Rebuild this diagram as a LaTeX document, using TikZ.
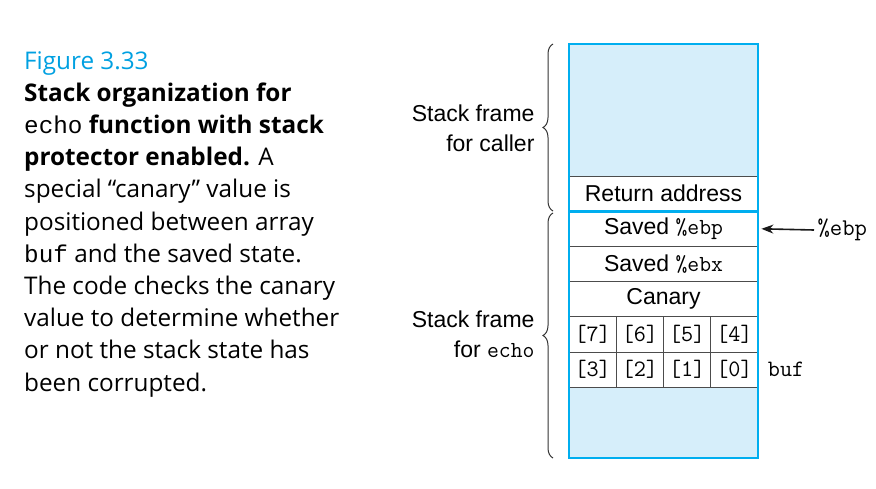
\documentclass[tikz,border=0pt]{standalone}
\usepackage{fontspec}
\setmainfont{Open Sans}
\setsansfont{Liberation Sans}
\newfontfamily\capmono{Liberation Mono}
\usetikzlibrary{arrows.meta,decorations.pathreplacing,positioning}
\definecolor{stackblue}{RGB}{0,174,239}
\definecolor{stackfill}{RGB}{214,238,250}
\definecolor{figcyan}{RGB}{0,160,225}

\begin{document}
\begin{tikzpicture}[x=1pt,y=-1pt,
  cell/.style={draw=black!70, line width=0.8pt, minimum width=189pt, minimum height=35.2pt,
    inner sep=0pt, font=\sffamily\fontsize{23}{27}\selectfont},
  bytecell/.style={cell, minimum width=47.25pt, font=\ttfamily\fontsize{23.5}{27}\selectfont},
  framebox/.style={draw=stackblue, line width=2.6pt},
  brc/.style={decorate, decoration={brace, amplitude=10pt}, draw=black!80, line width=1pt},
  lbl/.style={font=\sffamily\fontsize{23}{30}\selectfont, align=right, anchor=east}]
\useasboundingbox (0,0) rectangle (876,488);
% caption
\node[anchor=north west, inner sep=0pt, align=left, font=\fontsize{24.3}{32.2}\selectfont] (caption) at (24,51)
  {\textcolor{figcyan}{Figure 3.33}\\
   \textbf{Stack organization for}\\
   {\capmono echo} \textbf{function with stack}\\
   \textbf{protector enabled.} A\\
   special “canary” value is\\
   positioned between array\\
   {\capmono buf} and the saved state.\\
   The code checks the canary\\
   value to determine whether\\
   or not the stack state has\\
   been corrupted.};
% shaded areas
\fill[stackfill] (569,44) rectangle (758,176);
\fill[stackfill] (569,387.2) rectangle (758,458);
% stack cells
\node[cell] (ret) at (663.5,193.6) {Return address};
\node[cell] (sebp) at (663.5,228.8) {Saved \texttt{\%ebp}};
\node[cell] (sebx) at (663.5,264) {Saved \texttt{\%ebx}};
\node[cell] (canary) at (663.5,299.2) {Canary};
\foreach \i/\lo/\hi in {0/4/0,1/5/1,2/6/2,3/7/3}{
  \node[bytecell] (hi\i) at (734.4-47.25*\i,334.4) {[\lo]};
  \node[bytecell] (lo\i) at (734.4-47.25*\i,369.6) {[\hi]};
}
% frames
\draw[framebox] (569,44) rectangle (758,211.2);
\draw[framebox] (569,211.2) rectangle (758,458);
% braces
\draw[brc] (553,211) -- (553,44);
\draw[brc] (553,458) -- (553,213);
\node[lbl] (caller) at (538,128) {Stack frame\\for caller};
\node[lbl] (callee) at (538,334) {Stack frame\\for \texttt{echo}};
% pointers
\node[anchor=west, font=\ttfamily\fontsize{24}{27}\selectfont] (ebp) at (814,230) {\%ebp};
\draw[black!90, line width=1.6pt, -{Stealth[length=12pt, width=9pt]}] (ebp.west) -- ([xshift=3pt]sebp.east);
\node[right=6pt of lo0, font=\ttfamily\fontsize{23.5}{27}\selectfont] (buf) {buf};
\end{tikzpicture}
\end{document}
